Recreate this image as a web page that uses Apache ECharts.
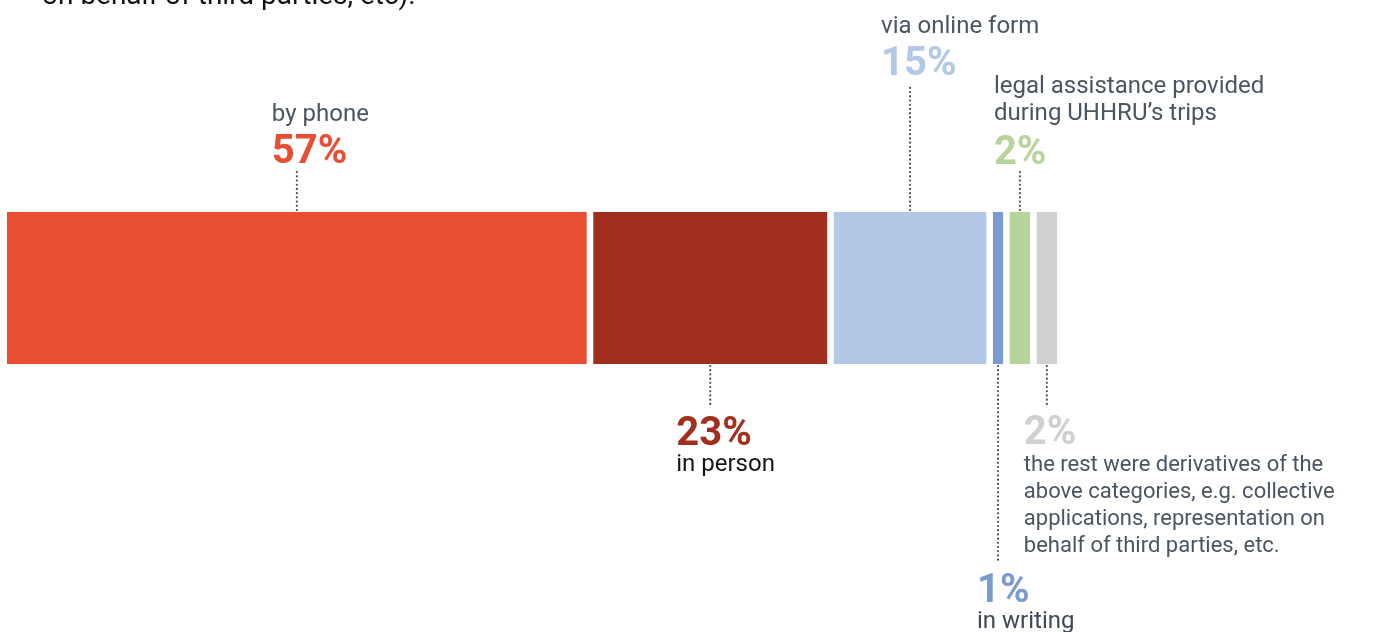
<!DOCTYPE html>
<html>
<head>
<meta charset="utf-8">
<script src="https://cdn.jsdelivr.net/npm/echarts@6/dist/echarts.min.js"></script>
<style>
html,body{margin:0;padding:0;background:#fff;}
#chart{width:1381px;height:632px;}
</style>
</head>
<body>
<div id="chart"></div>
<script>
// ---- data ----
const categories = [
  'by phone',
  'in person',
  'via online form',
  'in writing',
  'legal assistance provided\nduring UHHRU\u2019s trips',
  'the rest were derivatives of the\nabove categories, e.g. collective\napplications, representation on\nbehalf of third parties, etc.'
];
const values = [57, 23, 15, 1, 2, 2];
const topNote = 'on behalf of third parties, etc).';

// ---- styles / layout (not data) ----
const barColors  = ['#e84e31', '#a22e1e', '#b3c7e7', '#7a9bcf', '#b6d59b', '#d0d0d1'];
const nameColors = ['#4a5561', '#151515', '#4a5561', '#3e4853', '#4a5561', '#4a5561'];
const nameSizes  = [24, 24, 24, 24, 24, 22];
const nameExtraY = [0, 0, 0, 0, -2, 2];
const pctExtraY  = [0, 0, -4, 0, 0, 0];
const side       = ['top', 'bottom', 'top', 'bottom', 'top', 'bottom'];
const leaderLen  = [42, 41, 126, 198, 41, 40];
const textShift  = [-25, -34, -29, -21, -26, -23];
const GAP = 6.6;
const LEADER_COLOR = '#414b56';
const FONT = 'Roboto, "Liberation Sans", sans-serif';

// cumulative segments
const seriesData = [];
let acc = 0;
values.forEach((v, i) => {
  seriesData.push([acc, acc + v, i]);
  acc += v;
});

function leader(cx, y1, y2) {
  return {
    type: 'line',
    shape: { x1: cx, y1: y1, x2: cx, y2: y2 },
    style: { stroke: LEADER_COLOR, lineWidth: 2.2, lineDash: [0.01, 4.2], lineCap: 'round' }
  };
}

function renderItem(params, api) {
  const i = params.dataIndex;
  const start = api.value(0), end = api.value(1);
  const p0 = api.coord([start, 1]);
  const p1 = api.coord([end, 0]);
  const x = p0[0] + i * GAP;
  const w = p1[0] - p0[0];
  const y = p0[1];
  const h = p1[1] - p0[1];
  const cx = x + w / 2;
  const tx = x + w / 2 + textShift[i];
  const children = [{
    type: 'rect',
    shape: { x: x, y: y, width: w, height: h },
    style: { fill: barColors[i] }
  }];
  const pct = values[i] + '%';
  const nameFont = nameSizes[i] + 'px ' + FONT;
  if (side[i] === 'top') {
    const lt = y - leaderLen[i];
    children.push(leader(cx, y - 2, lt));
    const pm = lt - 17 + pctExtraY[i];
    children.push({
      type: 'text',
      style: { text: pct, x: tx, y: pm, fill: barColors[i], font: 'bold 40px ' + FONT, align: 'left', verticalAlign: 'middle' }
    });
    children.push({
      type: 'text',
      style: { text: categories[i], x: tx, y: pm - 25 + nameExtraY[i], fill: nameColors[i], font: nameFont, lineHeight: 27, align: 'left', verticalAlign: 'bottom' }
    });
  } else {
    const lb = y + h + leaderLen[i];
    children.push(leader(cx, y + h + 2, lb));
    const pm = lb + 30 + pctExtraY[i];
    children.push({
      type: 'text',
      style: { text: pct, x: tx, y: pm, fill: barColors[i], font: 'bold 40px ' + FONT, align: 'left', verticalAlign: 'middle' }
    });
    children.push({
      type: 'text',
      style: { text: categories[i], x: tx, y: pm + 16 + nameExtraY[i], fill: nameColors[i], font: nameFont, lineHeight: 27, align: 'left', verticalAlign: 'top' }
    });
  }
  return { type: 'group', children: children };
}

const chart = echarts.init(document.getElementById('chart'), null, { renderer: 'canvas' });
chart.setOption({
  animation: false,
  backgroundColor: '#ffffff',
  graphic: [{
    type: 'text',
    left: 42,
    top: -17,
    style: { text: topNote, fill: '#111111', font: '28px ' + FONT }
  }],
  grid: { left: 7, top: 212, width: 1017, height: 152 },
  xAxis: { type: 'value', min: 0, max: 100, show: false },
  yAxis: { type: 'value', min: 0, max: 1, show: false },
  series: [{
    type: 'custom',
    renderItem: renderItem,
    clip: false,
    encode: { x: [0, 1] },
    data: seriesData
  }]
});
</script>
</body>
</html>
